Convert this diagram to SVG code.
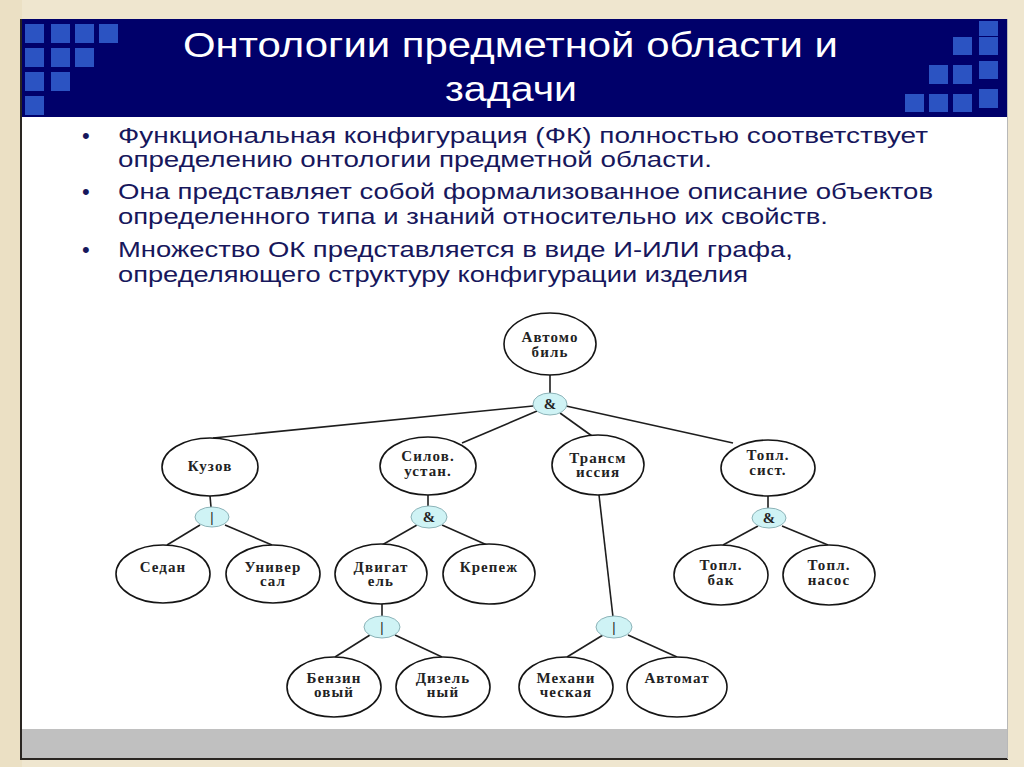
<svg xmlns="http://www.w3.org/2000/svg" width="1024" height="767" viewBox="0 0 1024 767">
<style>
.sq{fill:#2b53c2}
.title{font-family:"Liberation Sans",Arial,sans-serif;font-size:35px;fill:#ffffff}
.bt{font-family:"Liberation Sans",Arial,sans-serif;font-size:22px;fill:#17175c}
.node ellipse{fill:#ffffff;stroke:#151515;stroke-width:1.6}
.node text{font-family:"Liberation Serif","Times New Roman",serif;font-size:15px;font-weight:bold;fill:#222;text-anchor:middle;letter-spacing:1.1px}
.gate ellipse{fill:#cff3f5;stroke:#8cb3b8;stroke-width:1}
.gate text{font-family:"Liberation Serif","Times New Roman",serif;font-size:15px;font-weight:bold;fill:#222;text-anchor:middle}
.edges line{stroke:#1e1e1e;stroke-width:1.6}
</style>
<rect width="1024" height="767" fill="#efe6cf"/>
<rect x="0" y="0" width="22" height="767" fill="#e8dcbd" opacity="0.6"/>
<!-- slide -->
<rect x="21" y="19" width="987" height="740" fill="#ffffff"/>
<rect x="21" y="729" width="987" height="29" fill="#c0c0c0"/>
<line x1="21" y1="19" x2="21" y2="759" stroke="#2a2622" stroke-width="2"/>
<line x1="20" y1="759" x2="1008" y2="759" stroke="#2a2622" stroke-width="2"/>
<line x1="1007.5" y1="19" x2="1007.5" y2="759" stroke="#b8b8b8" stroke-width="1"/>
<!-- title bar -->
<rect x="22" y="19" width="985" height="98" fill="#00006a"/>
<g id="squares-left">
<rect class="sq" x="25" y="24" width="19" height="19"/><rect class="sq" x="51" y="24" width="19" height="19"/><rect class="sq" x="75" y="24" width="19" height="19"/><rect class="sq" x="99" y="24" width="19" height="19"/>
<rect class="sq" x="25" y="48" width="19" height="19"/><rect class="sq" x="51" y="48" width="19" height="19"/><rect class="sq" x="75" y="48" width="19" height="19"/>
<rect class="sq" x="25" y="72" width="19" height="19"/><rect class="sq" x="51" y="72" width="19" height="19"/>
<rect class="sq" x="25" y="96" width="19" height="19"/>
</g>
<g id="squares-right">
<rect class="sq" x="979" y="21" width="19" height="15"/><rect class="sq" x="979" y="37" width="19" height="18"/><rect class="sq" x="979" y="61" width="19" height="18"/><rect class="sq" x="979" y="89" width="19" height="19"/>
<rect class="sq" x="953" y="37" width="19" height="18"/><rect class="sq" x="953" y="65" width="19" height="19"/><rect class="sq" x="953" y="94" width="19" height="18"/>
<rect class="sq" x="929" y="65" width="19" height="19"/><rect class="sq" x="929" y="94" width="19" height="18"/>
<rect class="sq" x="905" y="94" width="19" height="18"/>
</g>
<text class="title" x="183" y="57" textLength="655" lengthAdjust="spacingAndGlyphs">Онтологии предметной области и</text>
<text class="title" x="445" y="101" textLength="132" lengthAdjust="spacingAndGlyphs">задачи</text>
<!-- bullets -->
<g id="bullets">
<text class="bt" x="82" y="143">•</text>
<text class="bt" x="118" y="143" textLength="810" lengthAdjust="spacingAndGlyphs">Функциональная конфигурация (ФК) полностью соответствует</text>
<text class="bt" x="118" y="167" textLength="594" lengthAdjust="spacingAndGlyphs">определению онтологии предметной области.</text>
<text class="bt" x="82" y="199">•</text>
<text class="bt" x="118" y="199" textLength="815" lengthAdjust="spacingAndGlyphs">Она представляет собой формализованное описание объектов</text>
<text class="bt" x="118" y="224" textLength="710" lengthAdjust="spacingAndGlyphs">определенного типа и знаний относительно их свойств.</text>
<text class="bt" x="82" y="257">•</text>
<text class="bt" x="118" y="257" textLength="675" lengthAdjust="spacingAndGlyphs">Множество ОК представляется в виде И-ИЛИ графа,</text>
<text class="bt" x="118" y="282" textLength="630" lengthAdjust="spacingAndGlyphs">определяющего структуру конфигурации изделия</text>
</g>
<!-- connectors -->
<g id="connectors" class="edges">
<line x1="550" y1="375" x2="550" y2="393"/>
<line x1="533" y1="406" x2="213" y2="438"/>
<line x1="537" y1="411" x2="462" y2="443"/>
<line x1="560" y1="413" x2="592" y2="436"/>
<line x1="566" y1="406" x2="733" y2="443"/>
<line x1="210" y1="496" x2="211" y2="507"/>
<line x1="200" y1="525" x2="167" y2="545"/>
<line x1="225" y1="525" x2="272" y2="545"/>
<line x1="428" y1="495" x2="428" y2="506"/>
<line x1="417" y1="525" x2="382" y2="545"/>
<line x1="442" y1="525" x2="487" y2="545"/>
<line x1="768" y1="496" x2="768" y2="508"/>
<line x1="758" y1="526" x2="723" y2="545"/>
<line x1="782" y1="526" x2="828" y2="545"/>
<line x1="599" y1="495" x2="613" y2="617"/>
<line x1="603" y1="635" x2="567" y2="657"/>
<line x1="628" y1="635" x2="677" y2="657"/>
<line x1="382" y1="604" x2="382" y2="616"/>
<line x1="370" y1="635" x2="335" y2="657"/>
<line x1="395" y1="635" x2="442" y2="657"/>
</g>
<!-- nodes -->
<g id="avtomobil" class="node"><ellipse cx="550" cy="344" rx="46" ry="31" stroke-width="3.5"/><text x="550" y="342">Автомо</text><text x="550" y="357">биль</text></g>
<g id="g-top" class="gate"><ellipse cx="550" cy="404" rx="17" ry="11"/><text x="550" y="409">&amp;</text></g>
<g id="kuzov" class="node"><ellipse cx="210" cy="467" rx="48" ry="29"/><text x="210" y="471">Кузов</text></g>
<g id="silov" class="node"><ellipse cx="428" cy="466" rx="48" ry="29"/><text x="428" y="461">Силов.</text><text x="428" y="476">устан.</text></g>
<g id="transm" class="node"><ellipse cx="598" cy="465" rx="46" ry="30"/><text x="598" y="463">Трансм</text><text x="598" y="477">иссия</text></g>
<g id="topl-sist" class="node"><ellipse cx="768" cy="468" rx="47" ry="28"/><text x="768" y="460">Топл.</text><text x="768" y="475">сист.</text></g>
<g id="g-kuzov" class="gate"><ellipse cx="212" cy="517" rx="17" ry="10"/><text x="212" y="522">|</text></g>
<g id="g-silov" class="gate"><ellipse cx="429" cy="517" rx="18" ry="11"/><text x="429" y="522">&amp;</text></g>
<g id="g-topl" class="gate"><ellipse cx="769" cy="518" rx="17" ry="10"/><text x="769" y="523">&amp;</text></g>
<g id="sedan" class="node"><ellipse cx="163" cy="574" rx="47" ry="29"/><text x="163" y="572">Седан</text></g>
<g id="universal" class="node"><ellipse cx="273" cy="574" rx="47" ry="29"/><text x="273" y="572">Универ</text><text x="273" y="586">сал</text></g>
<g id="dvigatel" class="node"><ellipse cx="381" cy="574" rx="46" ry="30"/><text x="381" y="572">Двигат</text><text x="381" y="586">ель</text></g>
<g id="krepezh" class="node"><ellipse cx="489" cy="574" rx="46" ry="30"/><text x="489" y="572">Крепеж</text></g>
<g id="topl-bak" class="node"><ellipse cx="721" cy="575" rx="47" ry="30"/><text x="721" y="570">Топл.</text><text x="721" y="585">бак</text></g>
<g id="topl-nasos" class="node"><ellipse cx="829" cy="575" rx="46" ry="30"/><text x="829" y="570">Топл.</text><text x="829" y="585">насос</text></g>
<g id="g-dvig" class="gate"><ellipse cx="382" cy="627" rx="18" ry="11"/><text x="382" y="632">|</text></g>
<g id="g-transm" class="gate"><ellipse cx="614" cy="627" rx="18" ry="11"/><text x="614" y="632">|</text></g>
<g id="benzin" class="node"><ellipse cx="334" cy="687" rx="47" ry="30"/><text x="334" y="683">Бензин</text><text x="334" y="697">овый</text></g>
<g id="dizel" class="node"><ellipse cx="443" cy="687" rx="47" ry="30"/><text x="443" y="683">Дизель</text><text x="443" y="697">ный</text></g>
<g id="mehan" class="node"><ellipse cx="566" cy="687" rx="47" ry="30"/><text x="566" y="683">Механи</text><text x="566" y="697">ческая</text></g>
<g id="avtomat" class="node"><ellipse cx="677" cy="687" rx="50" ry="30"/><text x="677" y="683">Автомат</text></g>
</svg>
